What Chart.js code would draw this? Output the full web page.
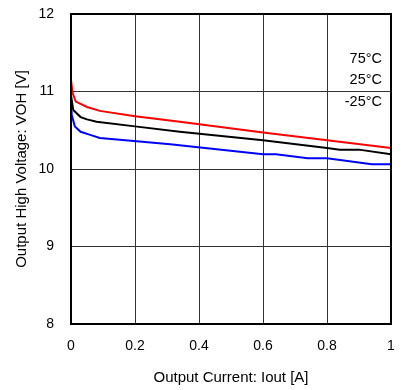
<!DOCTYPE html>
<html>
<head>
<meta charset="utf-8">
<script src="https://cdn.jsdelivr.net/npm/chart.js@4.4.1/dist/chart.umd.min.js"></script>
<style>
  html, body { margin: 0; padding: 0; background: #fff; }
  #wrap { width: 407px; height: 390px; }
</style>
</head>
<body>
<div id="wrap"><canvas id="c" width="407" height="390"></canvas></div>
<script>
// ---- data ----
const seriesNames = ['75°C', '25°C', '-25°C'];
const seriesColors = ['#ff0000', '#000000', '#0000ff'];

const iout75 = [0, 0.005, 0.015, 0.05, 0.09, 0.2, 0.34, 0.6, 0.8, 1.0];
const voh75  = [11.15, 10.98, 10.87, 10.80, 10.75, 10.68, 10.61, 10.47, 10.37, 10.27];

const iout25 = [0, 0.007, 0.03, 0.05, 0.08, 0.2, 0.34, 0.6, 0.8, 0.84, 0.9, 1.0];
const voh25  = [10.95, 10.76, 10.67, 10.64, 10.61, 10.55, 10.48, 10.37, 10.27, 10.25, 10.25, 10.19];

const ioutM25 = [0, 0.002, 0.012, 0.03, 0.06, 0.09, 0.17, 0.31, 0.6, 0.64, 0.74, 0.8, 0.94, 1.0];
const vohM25  = [10.75, 10.70, 10.55, 10.48, 10.44, 10.40, 10.37, 10.32, 10.19, 10.19, 10.14, 10.14, 10.06, 10.06];

const xTickLabels = ['0', '0.2', '0.4', '0.6', '0.8', '1'];
const yTickLabels = ['8', '9', '10', '11', '12'];
const xTitle = 'Output Current: Iout [A]';
const yTitle = 'Output High Voltage: VOH [V]';

function pts(xs, ys) { return xs.map((x, i) => ({ x: x, y: ys[i] })); }

const FONT = 'Liberation Sans, Arial, sans-serif';

const framePlugin = {
  id: 'frame',
  afterDatasetsDraw(chart) {
    const { ctx, chartArea: a } = chart;
    ctx.save();
    ctx.strokeStyle = '#000';
    ctx.lineWidth = 2;
    ctx.strokeRect(a.left, a.top, a.right - a.left, a.bottom - a.top);
    // legend labels
    ctx.fillStyle = '#000';
    ctx.font = '14.5px ' + FONT;
    ctx.textAlign = 'right';
    ctx.textBaseline = 'middle';
    const ys = [59, 80, 102];
    seriesNames.forEach((n, i) => ctx.fillText(n, a.right - 9, ys[i]));
    ctx.restore();
  }
};

new Chart(document.getElementById('c'), {
  type: 'scatter',
  data: {
    datasets: [
      { label: seriesNames[0], data: pts(iout75, voh75) },
      { label: seriesNames[1], data: pts(iout25, voh25) },
      { label: seriesNames[2], data: pts(ioutM25, vohM25) }
    ].map((d, i) => Object.assign(d, {
      showLine: true,
      borderColor: seriesColors[i],
      backgroundColor: seriesColors[i],
      borderWidth: 2,
      pointRadius: 0,
      tension: 0
    }))
  },
  options: {
    responsive: false,
    animation: false,
    devicePixelRatio: 1,
    layout: { padding: { top: 14, right: 16, left: 0, bottom: 0 } },
    plugins: { legend: { display: false }, tooltip: { enabled: false } },
    scales: {
      x: {
        type: 'linear', min: 0, max: 1,
        ticks: {
          stepSize: 0.2, color: '#000', padding: 14,
          font: { family: FONT, size: 14 },
          callback: (v, i) => xTickLabels[i]
        },
        grid: { color: '#333', lineWidth: 1, drawTicks: false },
        border: { display: false },
        title: { display: true, text: xTitle, color: '#000', font: { family: FONT, size: 15 }, padding: { top: 0, bottom: 3 } },
        afterFit: s => { s.height = 66; s.paddingLeft = 0; s.paddingRight = 0; }
      },
      y: {
        type: 'linear', min: 8, max: 12,
        ticks: {
          stepSize: 1, color: '#000', padding: 17,
          font: { family: FONT, size: 14 },
          callback: (v, i) => yTickLabels[i]
        },
        grid: { color: '#333', lineWidth: 1, drawTicks: false },
        border: { display: false },
        title: { display: true, text: yTitle, color: '#000', font: { family: FONT, size: 15 }, padding: { top: 13, bottom: 0 } },
        afterFit: s => { s.width = 71; s.paddingTop = 0; s.paddingBottom = 0; }
      }
    }
  },
  plugins: [framePlugin]
});
</script>
</body>
</html>
